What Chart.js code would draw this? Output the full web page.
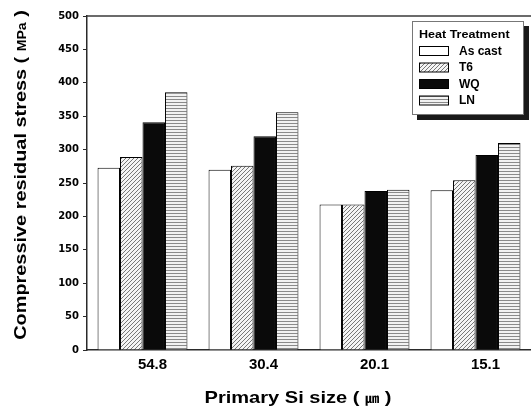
<!DOCTYPE html>
<html>
<head>
<meta charset="utf-8">
<script src="https://cdn.jsdelivr.net/npm/chart.js@4.4.0/dist/chart.umd.min.js"></script>
<style>
  html, body { margin: 0; padding: 0; background: #fff; overflow: hidden; }
  #wrap { width: 531px; height: 410px; }
</style>
</head>
<body>
<div id="wrap"><canvas id="c" width="531" height="410"></canvas></div>
<script>
const categories = ['54.8', '30.4', '20.1', '15.1'];
const seriesNames = ['As cast', 'T6', 'WQ', 'LN'];
const asCast = [273, 270, 218, 239];
const t6 = [289, 276, 218, 254];
const wq = [341, 320, 238, 292];
const ln = [386, 356, 240, 310];
const yTicks = [0, 50, 100, 150, 200, 250, 300, 350, 400, 450, 500];
const legendTitle = 'Heat Treatment';

function makePattern(w, h, draw) {
  const c = document.createElement('canvas');
  c.width = w; c.height = h;
  const g = c.getContext('2d');
  draw(g, w, h);
  return g.createPattern(c, 'repeat');
}
const hatch = makePattern(4, 4, (g, w, h) => {
  g.fillStyle = '#f4f4f4'; g.fillRect(0, 0, w, h);
  g.strokeStyle = '#777'; g.lineWidth = 1;
  g.beginPath();
  g.moveTo(0, h); g.lineTo(w, 0);
  g.moveTo(-1, 1); g.lineTo(1, -1);
  g.moveTo(w - 1, h + 1); g.lineTo(w + 1, h - 1);
  g.stroke();
});
const hlines = makePattern(4, 3, (g, w, h) => {
  g.fillStyle = '#f2f2f2'; g.fillRect(0, 0, w, h);
  g.fillStyle = '#8a8a8a'; g.fillRect(0, 0, w, 1);
});
const fills = ['#ffffff', hatch, '#0a0a0a', hlines];
const values = [asCast, t6, wq, ln];

function drawParts(c, parts, cx, sx) {
  let tot = 0;
  parts.forEach(p => { c.font = p[1]; tot += c.measureText(p[0]).width; });
  c.save();
  c.scale(sx, 1);
  let x = -tot / 2;
  parts.forEach(p => { c.font = p[1]; c.fillText(p[0], x, 0); x += c.measureText(p[0]).width; });
  c.restore();
}

const decor = {
  id: 'decor',
  afterDraw(chart) {
    const c = chart.ctx, a = chart.chartArea;
    c.save();
    c.strokeStyle = '#3a3a3a'; c.lineWidth = 1.5;
    c.beginPath(); c.moveTo(a.left, a.top); c.lineTo(a.right, a.top); c.stroke();

    // legend box
    const bx = 412, by = 21, bw = 112, bh = 94;
    c.fillStyle = '#1a1a1a';
    c.fillRect(bx + 5, by + 5, bw, bh);
    c.fillStyle = '#ffffff';
    c.fillRect(bx, by, bw, bh);
    c.strokeStyle = '#777'; c.lineWidth = 1;
    c.strokeRect(bx + 0.5, by + 0.5, bw - 1, bh - 1);
    c.fillStyle = '#000';
    c.textBaseline = 'alphabetic'; c.textAlign = 'left';
    c.save();
    c.translate(419, 38); c.scale(1.09, 1);
    c.font = 'bold 11.5px Arial, "Liberation Sans", sans-serif';
    c.fillText(legendTitle, 0, 0);
    c.restore();
    chart.data.datasets.forEach((ds, i) => {
      const cy = 51 + i * 16.5;
      c.fillStyle = ds.backgroundColor;
      c.fillRect(419, cy - 4.5, 29, 9);
      c.strokeStyle = '#000'; c.lineWidth = 1;
      c.strokeRect(419.5, cy - 4.5, 29, 9);
      c.fillStyle = '#000';
      c.font = 'bold 12px Arial, "Liberation Sans", sans-serif';
      c.textBaseline = 'middle';
      c.fillText(ds.label, 459, cy + 0.5);
    });

    const big = 'bold 17px Arial, "Liberation Sans", sans-serif';
    const small = 'bold 12px Arial, "Liberation Sans", sans-serif';
    c.textBaseline = 'alphabetic';
    // y axis title
    c.save();
    c.translate(26, 175);
    c.rotate(-Math.PI / 2);
    drawParts(c, [['Compressive residual stress ( ', big], ['MPa', small], [' )', big]], 0, 1.17);
    c.restore();
    // x axis title
    c.save();
    c.translate(298, 403);
    drawParts(c, [['Primary Si size ( ', big], ['\u339B', 'bold 12px "Noto Sans CJK KR", sans-serif'], [' )', big]], 0, 1.18);
    c.restore();
    c.restore();
  }
};

new Chart(document.getElementById('c'), {
  type: 'bar',
  data: {
    labels: categories,
    datasets: seriesNames.map((n, i) => ({
      label: n,
      data: values[i],
      backgroundColor: fills[i],
      borderColor: '#000',
      borderWidth: 1,
      categoryPercentage: 0.81,
      barPercentage: 1.0
    }))
  },
  options: {
    responsive: false,
    animation: false,
    devicePixelRatio: 1,
    layout: { padding: { top: 16, right: 0, left: 0, bottom: 0 } },
    plugins: { legend: { display: false }, tooltip: { enabled: false }, title: { display: false } },
    scales: {
      x: {
        grid: { display: false, drawTicks: false },
        border: { display: true, color: '#2a2a2a', width: 1.5 },
        ticks: {
          color: '#000', padding: 6, labelOffset: 10, maxRotation: 0,
          font: { family: 'Arial, "Liberation Sans", sans-serif', size: 15, weight: 'bold' }
        },
        afterFit(s) { s.height = 60; }
      },
      y: {
        min: 0, max: 500,
        afterBuildTicks(s) { s.ticks = yTicks.map(v => ({ value: v })); },
        grid: { display: true, drawOnChartArea: false, drawTicks: true, tickLength: 4, color: '#2a2a2a', lineWidth: 1 },
        border: { display: true, color: '#2a2a2a', width: 1.5 },
        ticks: {
          color: '#000', padding: 4,
          font: { family: '"DejaVu Sans", sans-serif', size: 10, weight: 'bold' }
        },
        afterFit(s) { s.width = 87; }
      }
    }
  },
  plugins: [decor]
});
</script>
</body>
</html>
